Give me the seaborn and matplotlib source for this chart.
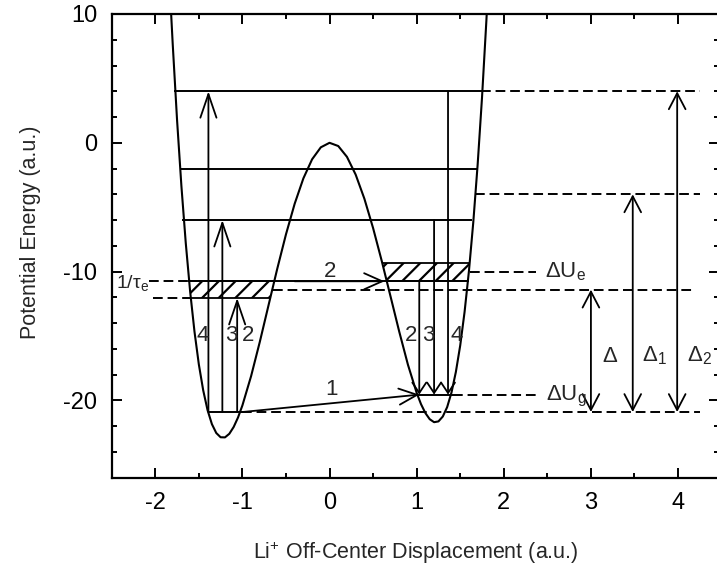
import matplotlib
matplotlib.use("Agg")
import matplotlib.pyplot as plt
import seaborn as sns
from matplotlib.patches import Rectangle, Polygon, FancyArrowPatch, ArrowStyle
from matplotlib.ticker import MultipleLocator

# ---------------- data ----------------
pot_x = [-1.82, -1.80, -1.75, -1.70, -1.65, -1.60, -1.55, -1.50, -1.45, -1.40, -1.35, -1.30,
         -1.25, -1.20, -1.15, -1.10, -1.05, -1.00, -0.90, -0.80, -0.70, -0.60, -0.50, -0.40,
         -0.30, -0.20, -0.10, 0.00, 0.10, 0.20, 0.30, 0.40, 0.50, 0.60, 0.70, 0.80, 0.90,
         1.00, 1.05, 1.10, 1.15, 1.20, 1.25, 1.30, 1.35, 1.40, 1.45, 1.50, 1.55, 1.60, 1.65,
         1.70, 1.75, 1.80, 1.81]
pot_y = [10.29, 7.70, 1.78, -3.36, -7.78, -11.53, -14.65, -17.20, -19.21, -20.75, -21.84, -22.53,
         -22.86, -22.87, -22.59, -22.06, -21.32, -20.39, -18.11, -15.45, -12.61, -9.78, -7.11, -4.73,
         -2.76, -1.28, -0.35, 0.00, -0.25, -1.09, -2.47, -4.34, -6.62, -9.19, -11.92, -14.66, -17.23,
         -19.41, -20.29, -20.98, -21.46, -21.69, -21.63, -21.25, -20.52, -19.38, -17.79, -15.73, -13.13, -9.96, -6.16,
         -1.69, 3.50, 9.46, 10.76]

# solid energy levels: y, x-start, x-end
solid_y = [4.0, -2.0, -6.0, -20.9, -19.55, -10.75]
solid_x0 = [-1.78, -1.72, -1.69, -1.40, 0.97, -1.62]
solid_x1 = [1.74, 1.70, 1.63, -1.00, 1.42, 1.60]

# dashed extensions: y, x-start, x-end
dash_y = [4.0, -4.0, -20.9, -11.4, -10.05, -19.55, -10.75, -12.05]
dash_x0 = [1.74, 1.67, -1.00, -0.65, 1.61, 1.42, -2.07, -2.03]
dash_x1 = [4.25, 4.25, 4.25, 4.17, 2.37, 2.39, -1.62, -1.59]

# hatched bands (lower, upper) and x-range where they are drawn
band_lo = [-12.05, -10.75]
band_hi = [-10.75, -9.35]
band_x0 = [-1.75, 0.45]
band_x1 = [-0.45, 1.75]

# left-well upward arrows
up_x = [-1.39, -1.23, -1.06]
up_top = [4.0, -6.0, -12.05]
up_base = -20.9
up_lbl = ["4", "3", "2"]
up_lbl_x = [-1.46, -1.13, -0.94]

# right-well downward arrows
dn_x = [1.03, 1.20, 1.36]
dn_top = [-10.75, -6.0, 4.0]
dn_base = -19.55
dn_lbl = ["2", "3", "4"]
dn_lbl_x = [0.94, 1.13, 1.46]
well_lbl_y = -14.95

# double-headed gap arrows
gap_x = [3.0, 3.48, 3.99]
gap_top = [-11.4, -4.0, 4.0]
gap_base = -20.9
gap_lbl = [r"$\mathregular{\Delta}$", r"$\mathregular{\Delta_1}$", r"$\mathregular{\Delta_2}$"]
gap_lbl_x = [3.13, 3.59, 4.10]
gap_lbl_y = -17.0

# tunnelling arrows 1 and 2
tun_x0 = [-1.00, -0.40]
tun_y0 = [-20.9, -10.75]
tun_x1 = [1.03, 0.63]
tun_y1 = [-19.55, -10.75]
tun_lbl = ["1", "2"]
tun_lbl_x = [0.02, 0.01]
tun_lbl_y = [-19.15, -9.97]

# ---------------- style ----------------
sns.set_style("ticks")
plt.rcParams["font.family"] = ["Liberation Sans", "DejaVu Sans"]
plt.rcParams["mathtext.fontset"] = "custom"
plt.rcParams["mathtext.rm"] = "Liberation Sans"
plt.rcParams["mathtext.it"] = "Liberation Sans"
plt.rcParams["mathtext.sf"] = "Liberation Sans"
plt.rcParams["axes.unicode_minus"] = False
plt.rcParams["hatch.linewidth"] = 1.6
plt.rcParams["hatch.color"] = "black"

fig = plt.figure(figsize=(7.17, 5.74), dpi=100)
ax = fig.add_axes([111.7 / 717, (574 - 477.7) / 574, (719 - 111.7) / 717, 463.7 / 574])

K = "black"
# potential curve
sns.lineplot(x=pot_x, y=pot_y, ax=ax, color=K, lw=1.5, sort=False, estimator=None)

# interior of wells (region above the curve) used as clip path
interior = Polygon(list(zip(pot_x, pot_y)) + [(pot_x[-1], 40), (pot_x[0], 40)],
                   closed=True, transform=ax.transData, facecolor="none", edgecolor="none")
ax.add_patch(interior)
for lo, hi, x0, x1 in zip(band_lo, band_hi, band_x0, band_x1):
    r = Rectangle((x0, lo), x1 - x0, hi - lo, facecolor="none", edgecolor=K,
                  hatch="//", lw=1.3)
    ax.add_patch(r)
    r.set_clip_path(interior)

ax.hlines(solid_y, solid_x0, solid_x1, colors=K, lw=1.4)
ax.hlines(dash_y, dash_x0, dash_x1, colors=K, lw=1.4, linestyles=(0, (5, 2.5)))


def arrow(p0, p1, style, hl, hw, lw=1.3):
    a = FancyArrowPatch(p0, p1, arrowstyle=ArrowStyle(style, head_length=hl, head_width=hw),
                        mutation_scale=1, shrinkA=0, shrinkB=0, lw=lw, color=K)
    ax.add_patch(a)


for x, t in zip(up_x, up_top):
    arrow((x, up_base), (x, t), "->", 17, 5.8)
for x, t in zip(dn_x, dn_top):
    arrow((x, t), (x, dn_base), "->", 7.5, 5.0)
for x, t in zip(gap_x, gap_top):
    arrow((x, gap_base), (x, t), "<->", 11.5, 6.0)
for x0, y0, x1, y1 in zip(tun_x0, tun_y0, tun_x1, tun_y1):
    arrow((x0, y0), (x1, y1), "->", 13, 5.8)

fs = 16
for lbl, x in zip(up_lbl, up_lbl_x):
    ax.text(x, well_lbl_y, lbl, ha="center", va="center", fontsize=fs)
for lbl, x in zip(dn_lbl, dn_lbl_x):
    ax.text(x, well_lbl_y, lbl, ha="center", va="center", fontsize=fs)
for lbl, x, y in zip(tun_lbl, tun_lbl_x, tun_lbl_y):
    ax.text(x, y, lbl, ha="center", va="center", fontsize=fs)
for lbl, x in zip(gap_lbl, gap_lbl_x):
    ax.text(x, gap_lbl_y, lbl, ha="left", va="baseline", fontsize=fs)
ax.text(2.47, -10.44, r"$\mathregular{\Delta U_e}$", ha="left", va="baseline", fontsize=fs)
ax.text(2.49, -20.0, r"$\mathregular{\Delta U_g}$", ha="left", va="baseline", fontsize=fs)
ax.text(-2.45, -11.25, r"$\mathregular{1/\tau_e}$", ha="left", va="baseline", fontsize=14)

# axes
ax.set_xlim(-2.5, 4.47)
ax.set_ylim(-26, 10)
ax.xaxis.set_major_locator(MultipleLocator(1))
ax.xaxis.set_minor_locator(MultipleLocator(0.5))
ax.yaxis.set_major_locator(MultipleLocator(10))
ax.yaxis.set_minor_locator(MultipleLocator(2))
ax.tick_params(which="both", direction="in", top=True, right=True, width=1.4, colors=K)
ax.tick_params(which="major", length=7.5, pad=10.5, labelsize=17)
ax.tick_params(which="minor", length=3.8)
for s in ["left", "top", "bottom"]:
    ax.spines[s].set_linewidth(1.6)
    ax.spines[s].set_color(K)
ax.spines["right"].set_visible(False)
ax.set_facecolor("white")

ax.set_xlabel(r"Li$^{\mathregular{+}}$ Off-Center Displacement (a.u.)", fontsize=15.5, va="center")
ax.xaxis.set_label_coords(0.5, -0.162)
ax.set_ylabel("Potential Energy (a.u.)", fontsize=15.5, va="center")
ax.yaxis.set_label_coords(-0.133, 0.53)

fig.savefig("out.png", dpi=100, facecolor="white")
